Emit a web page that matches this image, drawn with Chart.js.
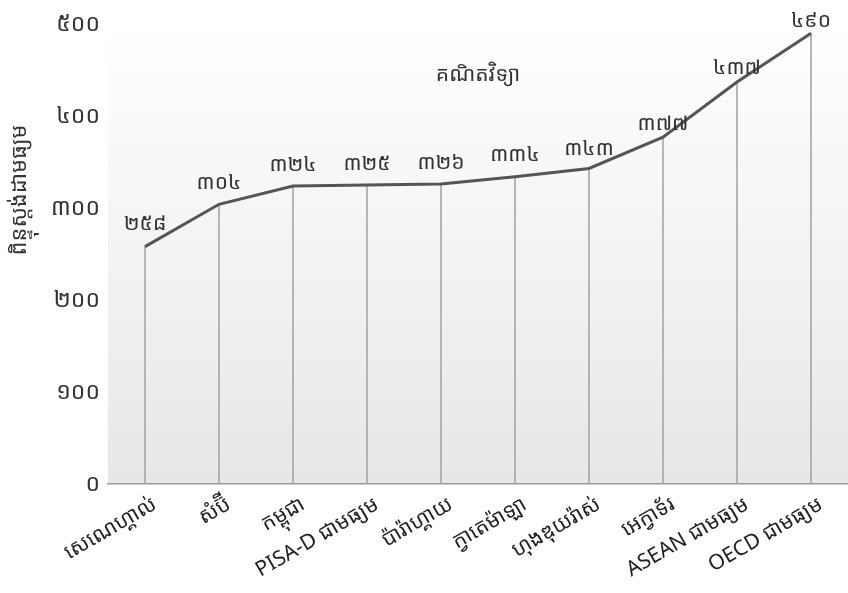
<!DOCTYPE html>
<html><head><meta charset="utf-8">
<script src="https://cdn.jsdelivr.net/npm/chart.js@4/dist/chart.umd.min.js"></script>
<style>html,body{margin:0;padding:0;background:#fff}#w{width:848px;height:593px}</style>
</head><body><div id="w"><canvas id="c"></canvas></div>
<script>
const categories = ["សេណេហ្គាល់","សំប៊ី","កម្ពុជា","PISA-D ជាមធ្យម","ប៉ារ៉ាហ្គាយ","ក្វាតេម៉ាឡា","ហុងឌុយរ៉ាស់","អេក្វាទ័រ","ASEAN ជាមធ្យម","OECD ជាមធ្យម"];
const scores = [258,304,324,325,326,334,343,377,437,490];
const yTicks = [0,100,200,300,400,500];
const khmerDigits = "០១២៣៤៥៦៧៨៩";
const toKhmer = n => String(n).replace(/[0-9]/g, d => khmerDigits[+d]);
const chartTitle = "គណិតវិទ្យា";
const yTitle = "ពិន្ទុស្តង់ដាមធ្យម";
const FONT = "'Noto Sans Khmer','Khmer OS','Noto Sans','DejaVu Sans',sans-serif";

const bgPlugin = {
  id:'bg',
  beforeDraw(chart){
    const {ctx, chartArea:a} = chart;
    const g = ctx.createLinearGradient(0,a.top,0,a.bottom);
    g.addColorStop(0,'#ffffff'); g.addColorStop(1,'#e6e7e9');
    ctx.save(); ctx.fillStyle=g; ctx.fillRect(a.left,0,a.right-a.left,a.bottom); ctx.restore();
  },
  afterDraw(chart, args, opts){
    const {ctx, chartArea:a} = chart;
    ctx.save();
    ctx.fillStyle='#333'; ctx.textAlign='center'; ctx.textBaseline='middle';
    ctx.font = "21px " + FONT;
    ctx.fillText(chartTitle,(a.left+a.right)/2, 75);
    const meta = chart.getDatasetMeta(1);
    meta.data.forEach((p,i)=>{
      ctx.fillText(toKhmer(scores[i]), p.x, p.y-opts.lift[i]);
    });
    ctx.translate(20,190); ctx.rotate(-Math.PI/2);
    ctx.font = "22px " + FONT;
    ctx.fillText(yTitle,0,0);
    ctx.restore();
  }
};

new Chart(document.getElementById('c'),{
  data:{
    labels:categories,
    datasets:[
      {type:'bar',data:scores,backgroundColor:'#a8a8a8',barThickness:1,order:2},
      {type:'line',data:scores,borderColor:'#555555',borderWidth:3,pointRadius:0,tension:0,order:1}
    ]
  },
  options:{
    responsive:true,maintainAspectRatio:false,animation:false,
    layout:{padding:{top:24,right:0,left:36,bottom:0}},
    plugins:{legend:{display:false},tooltip:{enabled:false},
      bg:{lift:[23,21,21,21,21,22,19,13,14,12]}},
    scales:{
      x:{offset:true,grid:{display:false,drawTicks:false},border:{display:true,color:'#999',width:1.5},
         afterFit(s){s.height=109;},
         ticks:{color:'#222',font:{family:FONT,size:21},maxRotation:30,minRotation:30,padding:8,labelOffset:10}},
      y:{min:0,max:500,grid:{display:false,drawTicks:false},border:{display:false},
         afterBuildTicks(s){s.ticks=yTicks.map(v=>({value:v}));},
         afterFit(s){s.width=72;},
         ticks:{color:'#333',font:{family:FONT,size:23},padding:8,callback:v=>toKhmer(v)}}
    }
  },
  plugins:[bgPlugin]
});
</script></body></html>
